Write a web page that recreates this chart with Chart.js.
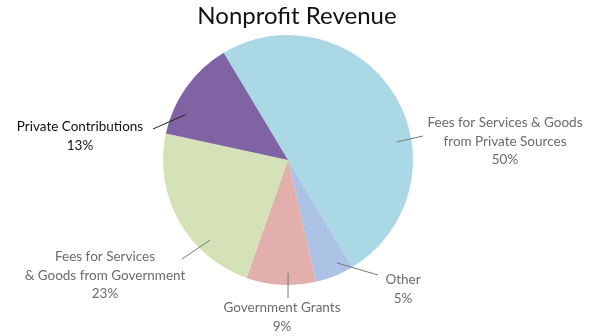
<!DOCTYPE html>
<html>
<head>
<meta charset="utf-8">
<script src="https://cdn.jsdelivr.net/npm/chart.js@4.4.1/dist/chart.umd.min.js"></script>
<style>
  html, body { margin: 0; padding: 0; background: #fff; }
  #wrap { width: 595px; height: 336px; position: relative; }
</style>
</head>
<body>
<div id="wrap"><canvas id="c" width="595" height="336"></canvas></div>
<script>
// Revenue sources, in drawing order (clockwise)
const categories = [
  'Fees for Services & Goods from Private Sources',
  'Other',
  'Government Grants',
  'Fees for Services & Goods from Government',
  'Private Contributions'
];
const shares = [50, 5, 9, 23, 13];
const sliceColors = ['#abd8e5', '#adc3e6', '#e2afad', '#d5e2b7', '#8063a3'];

// Label text lines for each slice
const labelLines = [
  ['Fees for Services & Goods', 'from Private Sources'],
  ['Other'],
  ['Government Grants'],
  ['Fees for Services', '& Goods from Government'],
  ['Private Contributions']
];

// Callout layout: text centre, leader start (near text), leader end inside slice
// (fraction across the slice's angle, distance from centre)
const calloutLayout = [
  { tx: 505, ty: 123, lx: 423, ly: 136, frac: 0.62, depth: 110, color: '#6b6b6b' },
  { tx: 403, ty: 280, lx: 378, ly: 275, frac: 0.31, depth: 114, color: '#6b6b6b' },
  { tx: 282, ty: 308, lx: 288, ly: 298, frac: 0.40, depth: 113, color: '#6b6b6b' },
  { tx: 105, ty: 257, lx: 182, ly: 259, frac: 0.30, depth: 112, color: '#6b6b6b' },
  { tx: 80,  ty: 127, lx: 153, ly: 129, frac: 0.25, depth: 112, color: '#111111' }
];

const FONT = 'Lato, "Open Sans", sans-serif';

const calloutPlugin = {
  id: 'callouts',
  afterDatasetsDraw(chart) {
    const ctx = chart.ctx;
    const meta = chart.getDatasetMeta(0);
    ctx.save();
    // title
    ctx.fillStyle = '#111';
    ctx.font = '24px ' + FONT;
    ctx.textAlign = 'center';
    ctx.textBaseline = 'middle';
    ctx.fillText('Nonprofit Revenue', 297, 16);

    meta.data.forEach((arc, i) => {
      const p = arc.getProps(['x', 'y', 'startAngle', 'endAngle'], true);
      const L = calloutLayout[i];
      const a = p.startAngle + (p.endAngle - p.startAngle) * L.frac;
      const ex = p.x + Math.cos(a) * L.depth;
      const ey = p.y + Math.sin(a) * L.depth;
      ctx.strokeStyle = L.color === '#111111' ? '#222' : '#777';
      ctx.lineWidth = 1;
      ctx.beginPath();
      ctx.moveTo(L.lx, L.ly);
      ctx.lineTo(ex, ey);
      ctx.stroke();

      const lines = labelLines[i].concat([shares[i] + '%']);
      ctx.fillStyle = L.color;
      ctx.font = '13.5px ' + FONT;
      ctx.textAlign = 'center';
      ctx.textBaseline = 'middle';
      lines.forEach((t, k) => ctx.fillText(t, L.tx, L.ty + k * 18.5));
    });
    ctx.restore();
  }
};

new Chart(document.getElementById('c'), {
  type: 'pie',
  data: {
    labels: categories,
    datasets: [{
      data: shares,
      backgroundColor: sliceColors,
      borderWidth: 0
    }]
  },
  options: {
    responsive: false,
    animation: false,
    rotation: -31,
    layout: { padding: { left: 100, right: 119, top: 35, bottom: 51 } },
    plugins: {
      legend: { display: false },
      title: { display: false },
      tooltip: { enabled: false }
    }
  },
  plugins: [calloutPlugin]
});
</script>
</body>
</html>
